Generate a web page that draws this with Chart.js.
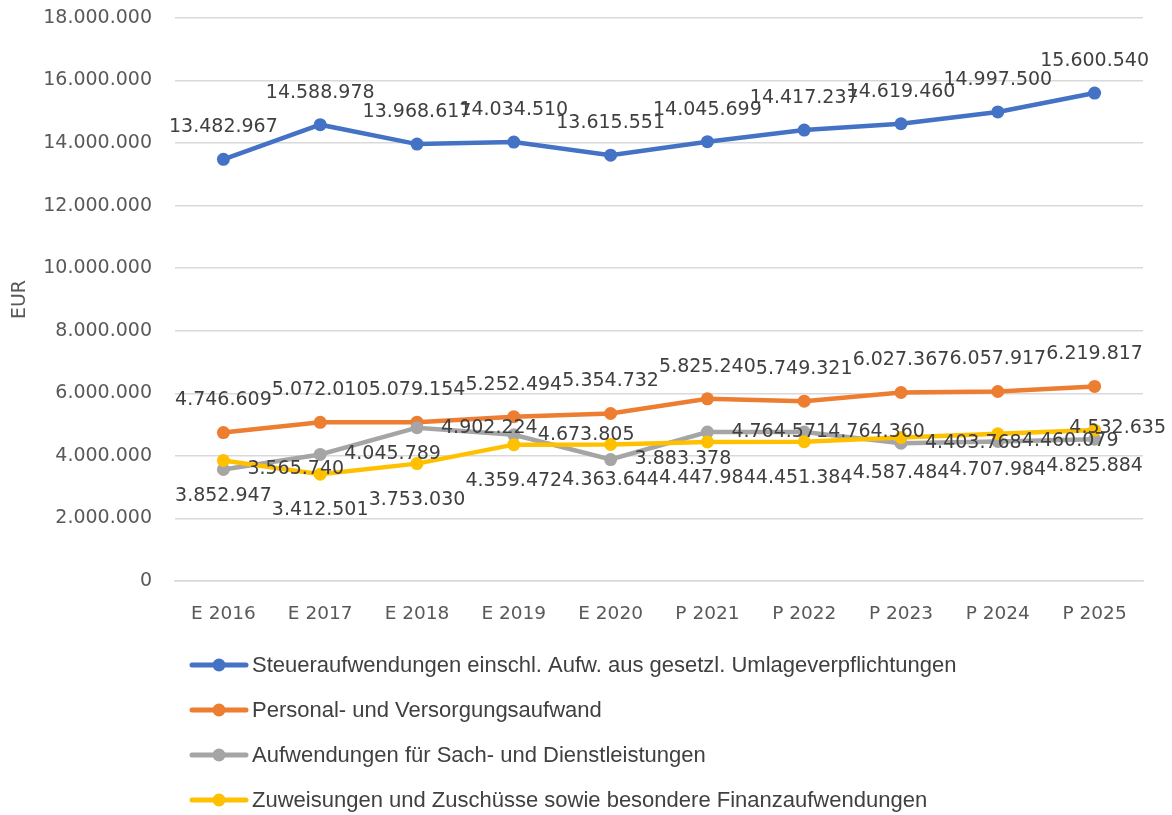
<!DOCTYPE html>
<html>
<head>
<meta charset="utf-8">
<script src="https://cdn.jsdelivr.net/npm/chart.js@4"></script>
<style>
  html, body { margin: 0; padding: 0; background: #fff; }
  #wrap { width: 1172px; height: 815px; }
</style>
</head>
<body>
<div id="wrap"><canvas id="costChart" width="1172" height="815"></canvas></div>
<script>
// chart data
const years = ['E 2016', 'E 2017', 'E 2018', 'E 2019', 'E 2020', 'P 2021', 'P 2022', 'P 2023', 'P 2024', 'P 2025'];
const steuer = [13482967, 14588978, 13968617, 14034510, 13615551, 14045699, 14417237, 14619460, 14997500, 15600540];
const personal = [4746609, 5072010, 5079154, 5252494, 5354732, 5825240, 5749321, 6027367, 6057917, 6219817];
const sach = [3565740, 4045789, 4902224, 4673805, 3883378, 4764571, 4764360, 4403768, 4460079, 4532635];
const zuweisungen = [3852947, 3412501, 3753030, 4359472, 4363644, 4447984, 4451384, 4587484, 4707984, 4825884];
const seriesNames = [
    'Steueraufwendungen einschl. Aufw. aus gesetzl. Umlageverpflichtungen',
    'Personal- und Versorgungsaufwand',
    'Aufwendungen für Sach- und Dienstleistungen',
    'Zuweisungen und Zuschüsse sowie besondere Finanzaufwendungen'
];
const colors = ['#4472C4', '#ED7D31', '#A5A5A5', '#FFC000'];
const labelSide = ['top', 'top', 'right', 'bottom'];

function fmt(v) {
    return String(Math.round(v)).replace(/\B(?=(\d{3})+(?!\d))/g, '.');
}

// data labels like the excel chart
const dataLabels = {
    id: 'dataLabels',
    afterDatasetsDraw(chart) {
        const ctx = chart.ctx;
        ctx.save();
        ctx.font = '19px "DejaVu Sans"';
        ctx.fillStyle = '#404040';
        ctx.textBaseline = 'middle';
        chart.data.datasets.forEach((ds, i) => {
            const meta = chart.getDatasetMeta(i);
            meta.data.forEach((pt, j) => {
                const txt = fmt(ds.data[j]);
                const w = ctx.measureText(txt).width;
                let x = pt.x - w / 2, y = pt.y;
                if (labelSide[i] === 'top') y = pt.y - 32;
                if (labelSide[i] === 'bottom') y = pt.y + 36;
                if (labelSide[i] === 'right') x = pt.x + 24;
                if (x + w > chart.width - 6) { x = chart.width - 6 - w; y -= 11; }
                ctx.textAlign = 'left';
                ctx.fillText(txt, x, y);
            });
        });
        ctx.restore();
    }
};

// vertical legend below the plot
const sideLegend = {
    id: 'sideLegend',
    afterDraw(chart) {
        const ctx = chart.ctx;
        ctx.save();
        ctx.font = '22px "Liberation Sans"';
        ctx.textBaseline = 'middle';
        seriesNames.forEach((name, i) => {
            const y = 665 + i * 45;
            ctx.strokeStyle = colors[i];
            ctx.lineWidth = 5;
            ctx.lineCap = 'round';
            ctx.beginPath();
            ctx.moveTo(192, y);
            ctx.lineTo(246, y);
            ctx.stroke();
            ctx.fillStyle = colors[i];
            ctx.beginPath();
            ctx.arc(219, y, 6.5, 0, Math.PI * 2);
            ctx.fill();
            ctx.fillStyle = '#404040';
            ctx.fillText(name, 252, y + 1);
        });
        ctx.restore();
    }
};

const allSeries = [steuer, personal, sach, zuweisungen];
const ctx = document.getElementById('costChart').getContext('2d');
new Chart(ctx, {
    type: 'line',
    data: {
        labels: years,
        datasets: allSeries.map((d, i) => ({
            label: seriesNames[i],
            data: d,
            borderColor: colors[i],
            backgroundColor: colors[i],
            borderWidth: 4.5,
            pointRadius: 6.5,
            pointHoverRadius: 6.5,
            pointBorderWidth: 0,
            tension: 0,
            order: 4 - i
        }))
    },
    options: {
        responsive: false,
        animation: false,
        events: [],
        layout: { padding: { top: 18, right: 29, bottom: 184, left: 0 } },
        plugins: {
            legend: { display: false },
            tooltip: { enabled: false }
        },
        scales: {
            x: {
                offset: true,
                grid: { display: false },
                border: { color: '#d9d9d9', width: 1.5 },
                ticks: { color: '#595959', font: { family: 'DejaVu Sans', size: 18.5 }, padding: 14, maxRotation: 0 },
                afterFit(scale) {
                    scale.height = 50;
                    scale.paddingLeft = 0;
                    scale.paddingRight = 0;
                }
            },
            y: {
                min: 0,
                max: 18000000,
                grid: { color: '#d9d9d9', lineWidth: 1.5, drawTicks: false },
                border: { display: false },
                ticks: {
                    stepSize: 2000000,
                    color: '#595959',
                    font: { family: 'DejaVu Sans', size: 19 },
                    padding: 23,
                    callback: v => fmt(v)
                },
                title: {
                    display: true,
                    text: 'EUR',
                    color: '#595959',
                    font: { family: 'DejaVu Sans', size: 19 },
                    padding: { top: 9, bottom: 0 }
                },
                afterFit(scale) {
                    scale.width = 175;
                    scale.paddingTop = 0;
                    scale.paddingBottom = 0;
                }
            }
        }
    },
    plugins: [dataLabels, sideLegend]
});
</script>
</body>
</html>
